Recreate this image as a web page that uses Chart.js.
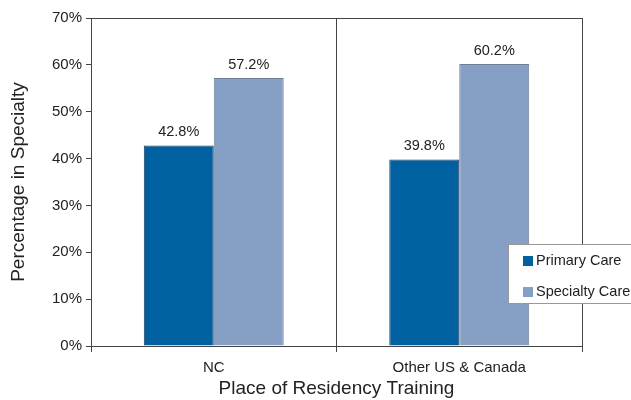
<!DOCTYPE html>
<html>
<head>
<meta charset="utf-8">
<script src="https://cdn.jsdelivr.net/npm/chart.js@4"></script>
<style>
  html, body { margin: 0; padding: 0; background: #fff; }
  #wrap { width: 631px; height: 400px; }
</style>
</head>
<body>
<div id="wrap"><canvas id="chart" width="631" height="400"></canvas></div>
<script>
const categories = ["NC", "Other US & Canada"];
const primaryCare = [42.8, 39.8];
const specialtyCare = [57.2, 60.2];
const seriesNames = ["Primary Care", "Specialty Care"];

const font = "Liberation Sans, Arial, sans-serif";

// value labels above bars
const valueLabels = {
  id: "valueLabels",
  afterDatasetsDraw(chart) {
    const ctx = chart.ctx;
    ctx.save();
    ctx.font = "14.5px " + font;
    ctx.fillStyle = "#222";
    ctx.textAlign = "center";
    ctx.textBaseline = "bottom";
    chart.data.datasets.forEach((ds, i) => {
      chart.getDatasetMeta(i).data.forEach((bar, j) => {
        ctx.fillText(ds.data[j].toFixed(1) + "%", bar.x, bar.y - 6);
      });
    });
    ctx.restore();
  }
};

// plot frame (top and right edges)
const frame = {
  id: "frame",
  beforeDatasetsDraw(chart) {
    const a = chart.chartArea, ctx = chart.ctx;
    ctx.save();
    ctx.strokeStyle = "#444";
    ctx.lineWidth = 1;
    ctx.beginPath();
    ctx.moveTo(a.left, a.top + 0.5);
    ctx.lineTo(a.right + 0.5, a.top + 0.5);
    ctx.lineTo(a.right + 0.5, a.bottom);
    ctx.stroke();
    ctx.restore();
  }
};

// legend box overlapping bottom right
const legendBox = {
  id: "legendBox",
  afterDraw(chart) {
    const ctx = chart.ctx;
    const x = 508, y = 244, w = 130, h = 59;
    ctx.save();
    ctx.fillStyle = "#fff";
    ctx.fillRect(x, y, w, h);
    ctx.strokeStyle = "#999";
    ctx.lineWidth = 1;
    ctx.strokeRect(x + 0.5, y + 0.5, w, h);
    ctx.font = "14.5px " + font;
    ctx.textBaseline = "middle";
    chart.data.datasets.forEach((ds, i) => {
      const cy = y + 17 + i * 31;
      ctx.fillStyle = ds.backgroundColor;
      ctx.fillRect(x + 15, cy - 5, 10, 10);
      ctx.fillStyle = "#222";
      ctx.fillText(ds.label, x + 28, cy);
    });
    ctx.restore();
  }
};

new Chart(document.getElementById("chart"), {
  type: "bar",
  data: {
    labels: categories,
    datasets: [
      { label: seriesNames[0], data: primaryCare, backgroundColor: "#0060a0",
        borderColor: "#1c3a5a", borderWidth: 1 },
      { label: seriesNames[1], data: specialtyCare, backgroundColor: "#869fc4",
        borderColor: "#6d7f99", borderWidth: 1 }
    ]
  },
  options: {
    responsive: false,
    animation: false,
    layout: { padding: { top: 18, right: 49, left: 0, bottom: 0 } },
    datasets: { bar: { categoryPercentage: 0.57, barPercentage: 1.0 } },
    plugins: { legend: { display: false }, tooltip: { enabled: false } },
    scales: {
      x: {
        afterFit: s => { s.height = 54; },
        grid: { offset: true, color: "#444", tickLength: 6, drawOnChartArea: true },
        border: { color: "#444" },
        ticks: { font: { size: 15, family: font }, color: "#222", padding: 7 },
        title: { display: true, text: "Place of Residency Training",
                 font: { size: 19, family: font }, color: "#222", padding: { top: 0, bottom: 0 } }
      },
      y: {
        afterFit: s => { s.width = 91; },
        min: 0, max: 70,
        grid: { drawOnChartArea: false, color: "#444", tickLength: 5 },
        border: { color: "#444" },
        ticks: { stepSize: 10, callback: v => v + "%", font: { size: 15, family: font },
                 color: "#222", padding: 4 },
        title: { display: true, text: "Percentage in Specialty",
                 font: { size: 19, family: font }, color: "#222", padding: { top: 7, bottom: 0 } }
      }
    }
  },
  plugins: [frame, valueLabels, legendBox]
});
</script>
</body>
</html>
